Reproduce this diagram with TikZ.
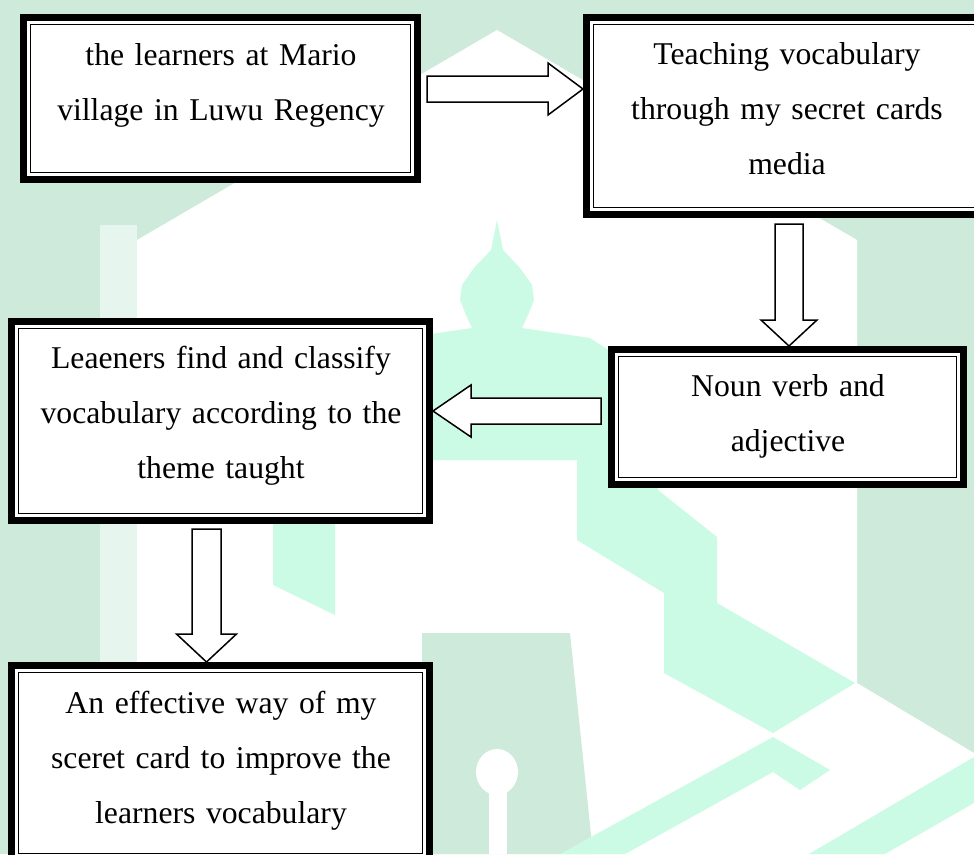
\documentclass[tikz,border=0pt]{standalone}
\usepackage{fontspec}
\setmainfont{Liberation Serif}
\usetikzlibrary{calc}
\definecolor{wmgreen}{HTML}{CEEADB}
\definecolor{wmmint}{HTML}{CCFBE5}
\definecolor{wmpale}{HTML}{E6F5EE}
\begin{document}
\begin{tikzpicture}[x=1pt,y=-1pt,
  box/.style={draw=black, line width=7pt, fill=white, rectangle, inner sep=0pt, outer sep=0pt},
  innerline/.style={draw=black, line width=1.4pt},
  txt/.style={font=\fontsize{31.7}{55}\selectfont, text width=440pt, align=center, inner sep=0pt, anchor=base},
  blk/.style={draw=black, line width=1.5pt, fill=white, line join=miter}]
\useasboundingbox (0,0) rectangle (974,854);
\clip (0,0) rectangle (974,854);
% ---- faint watermark ----
\fill[wmgreen] (0,0) rectangle (974,854);
\fill[wmpale] (100,225) rectangle (137,854);
\fill[white] (137,854) -- (137,240) -- (497,30) -- (857,240) -- (857,683) -- (974,753) -- (974,854) -- cycle;
\fill[wmmint] (497,220) -- (503,250) -- (520,268) -- (532,285) -- (534,300) -- (528,315) -- (522,328) -- (590,338) -- (658,382) -- (658,490) -- (717,537) -- (717,603) -- (855,683) -- (773,733) -- (664,673) -- (664,593) -- (577,540) -- (577,460) -- (375,460) -- (335,500) -- (335,382) -- (404,338) -- (472,328) -- (466,315) -- (460,300) -- (462,285) -- (474,268) -- (491,250) -- cycle;
\fill[wmmint] (273,517) -- (335,517) -- (335,615) -- (273,585) -- cycle;
\fill[wmgreen] (422,633) -- (570,633) -- (593,854) -- (422,854) -- cycle;
\fill[white] (497,772) ellipse [x radius=21, y radius=23];
\fill[white] (489,790) rectangle (507,854);
\fill[wmmint] (560,854) -- (773,737) -- (830,770) -- (800,790) -- (773,772) -- (625,854) -- cycle;
\fill[wmmint] (809,854) -- (974,757) -- (974,803) -- (885,854) -- cycle;
% ---- boxes ----
\node[box, minimum width=394pt, minimum height=162pt] (b1) at (220.5,98.5) {};
\node[box, minimum width=401pt, minimum height=197pt] (b2) at (787,116) {};
\node[box, minimum width=352pt, minimum height=135pt] (b3) at (787.5,417) {};
\node[box, minimum width=418pt, minimum height=199pt] (b4) at (220.5,421) {};
\node[box, minimum width=418pt, minimum height=195pt] (b5) at (220.5,763) {};
\foreach \b in {b1,b2,b3,b4,b5}{
  \draw[innerline] ([shift={(7,7)}]\b.north west) rectangle ([shift={(-7,-7)}]\b.south east);
}
% ---- texts ----
\node[txt] (t1) at (221,65) {the learners at Mario\\village in Luwu Regency};
\node[txt] (t2) at (787,64) {Teaching vocabulary\\through my secret cards\\media};
\node[txt] (t3) at (788,396) {Noun verb and\\adjective};
\node[txt] (t4) at (221,368) {Leaeners find and classify\\vocabulary according to the\\theme taught};
\node[txt] (t5) at (221,713) {An effective way of my\\sceret card to improve the\\learners vocabulary};
% ---- block arrows ----
\coordinate (a1s) at (427,89);
\coordinate (a1t) at ($(b2.west)+(-3.5,-27)$);
\draw[blk] ($(a1s)+(0,-13)$) -- ($(a1t)+(-35,-13)$) -- ($(a1t)+(-35,-26)$) -- (a1t) -- ($(a1t)+(-35,26)$) -- ($(a1t)+(-35,13)$) -- ($(a1s)+(0,13)$) -- cycle;
\coordinate (a2s) at (789,224);
\coordinate (a2t) at ($(b3.north)+(1.5,-3.5)$);
\draw[blk] ($(a2s)+(-14,0)$) -- ($(a2s)+(14,0)$) -- ($(a2t)+(14,-26)$) -- ($(a2t)+(28,-26)$) -- (a2t) -- ($(a2t)+(-28,-26)$) -- ($(a2t)+(-14,-26)$) -- cycle;
\coordinate (a3s) at (601,411);
\coordinate (a3t) at ($(b4.east)+(3.5,-10)$);
\draw[blk] ($(a3s)+(0,-13)$) -- ($(a3t)+(38,-13)$) -- ($(a3t)+(38,-26)$) -- (a3t) -- ($(a3t)+(38,26)$) -- ($(a3t)+(38,13)$) -- ($(a3s)+(0,13)$) -- cycle;
\coordinate (a4s) at (206.5,529);
\coordinate (a4t) at ($(b5.north)+(-14,-3.5)$);
\draw[blk] ($(a4s)+(-14.5,0)$) -- ($(a4s)+(14.5,0)$) -- ($(a4t)+(14.5,-28)$) -- ($(a4t)+(30,-28)$) -- (a4t) -- ($(a4t)+(-30,-28)$) -- ($(a4t)+(-14.5,-28)$) -- cycle;
\end{tikzpicture}
\end{document}
